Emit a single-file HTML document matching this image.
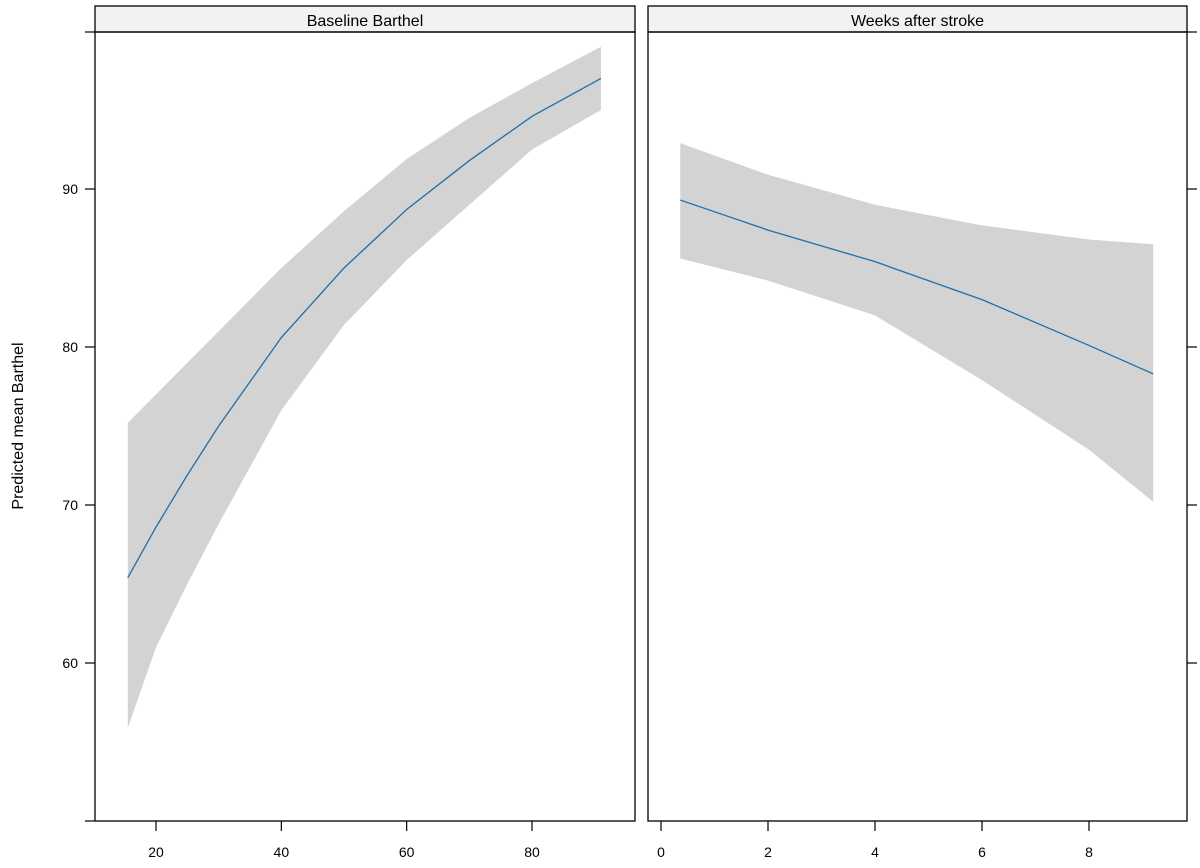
<!DOCTYPE html>
<html><head><meta charset="utf-8"><style>
body{margin:0;background:#fff;}
svg{display:block;font-family:"Liberation Sans",sans-serif;}
</style></head><body>
<svg id="chart" width="1200" height="868">
<g id="g"></g>
</svg>
<script>
// Panel 1: Baseline Barthel
const p1X = [15.5, 20, 25, 30, 40, 50, 60, 70, 80, 91];
const p1Fit = [65.4, 68.6, 71.9, 75.0, 80.6, 85.0, 88.7, 91.8, 94.6, 97.0];
const p1Upper = [75.2, 77.0, 79.0, 81.0, 85.0, 88.6, 91.9, 94.5, 96.7, 99.0];
const p1Lower = [55.9, 61.0, 65.0, 68.8, 76.0, 81.4, 85.5, 89.0, 92.5, 95.0];
const p1Ticks = [20, 40, 60, 80];
// Panel 2: Weeks after stroke
const p2X = [0.36, 2, 4, 6, 8, 9.2];
const p2Fit = [89.3, 87.4, 85.4, 83.0, 80.1, 78.3];
const p2Upper = [92.9, 90.9, 89.0, 87.7, 86.8, 86.5];
const p2Lower = [85.6, 84.2, 82.0, 77.9, 73.5, 70.2];
const p2Ticks = [0, 2, 4, 6, 8];
const yTicks = [60, 70, 80, 90];

const NS = "http://www.w3.org/2000/svg";
const g = document.getElementById('g');
function el(tag, attrs, parent){const e=document.createElementNS(NS,tag);for(const k in attrs)e.setAttribute(k,attrs[k]);(parent||g).appendChild(e);return e;}
const yS = v => 189 + (90 - v) * 15.8;
const x1S = v => 156 + (v - 20) * 6.267;
const x2S = v => 661 + v * 53.5;
const TOP=6, STRIP=32, BOT=821;

function panel(left,right,title,xs,X,fit,up,lo,ticks,name){
  const strip=el('rect',{x:left,y:TOP,width:right-left,height:STRIP-TOP,fill:'#f2f2f2',stroke:'#000','stroke-width':1.3});
  
  
  const t=el('text',{x:(left+right)/2,y:26,'text-anchor':'middle','font-size':16,fill:'#000'});
  t.textContent=title;
  
  
  let d='M'+X.map((x,i)=>xs(x)+','+yS(up[i])).join('L');
  for(let i=X.length-1;i>=0;i--) d+='L'+xs(X[i])+','+yS(lo[i]);
  const band=el('path',{d:d+'Z',fill:'#d3d3d3'});
  
  
  const line=el('path',{d:'M'+X.map((x,i)=>xs(x)+','+yS(fit[i])).join('L'),fill:'none',stroke:'#1f6fa8','stroke-width':1.3});
  
  
  const box=el('rect',{x:left,y:STRIP,width:right-left,height:BOT-STRIP,fill:'none',stroke:'#000','stroke-width':1.3});
  
  
  ticks.forEach(v=>{
    const tk=el('line',{x1:xs(v),x2:xs(v),y1:BOT,y2:BOT+10,stroke:'#000','stroke-width':1.2});
    
    
    const lb=el('text',{x:xs(v),y:BOT+36,'text-anchor':'middle','font-size':14,fill:'#000'});
    lb.textContent=v;
    
    
  });
}
panel(95,635,'Baseline Barthel',x1S,p1X,p1Fit,p1Upper,p1Lower,p1Ticks,'baseline-barthel');
panel(648,1187,'Weeks after stroke',x2S,p2X,p2Fit,p2Upper,p2Lower,p2Ticks,'weeks-after-stroke');

// axis extension lines
el('line',{x1:85,x2:95,y1:STRIP,y2:STRIP,stroke:'#000','stroke-width':1.2});
el('line',{x1:1187,x2:1197,y1:STRIP,y2:STRIP,stroke:'#000','stroke-width':1.2});
el('line',{x1:85,x2:95,y1:BOT,y2:BOT,stroke:'#000','stroke-width':1.2});
yTicks.forEach(v=>{
  const a=el('line',{x1:85,x2:95,y1:yS(v),y2:yS(v),stroke:'#000','stroke-width':1.2});
  
  
  const b=el('line',{x1:1187,x2:1197,y1:yS(v),y2:yS(v),stroke:'#000','stroke-width':1.2});
  
  
  const lb=el('text',{x:78,y:yS(v)+5,'text-anchor':'end','font-size':14,fill:'#000'});
  lb.textContent=v;
  
  
});
const yt=el('text',{x:0,y:0,transform:'translate(23,426) rotate(-90)','text-anchor':'middle','font-size':16,fill:'#000'});
yt.textContent='Predicted mean Barthel';


</script>
</body></html>
